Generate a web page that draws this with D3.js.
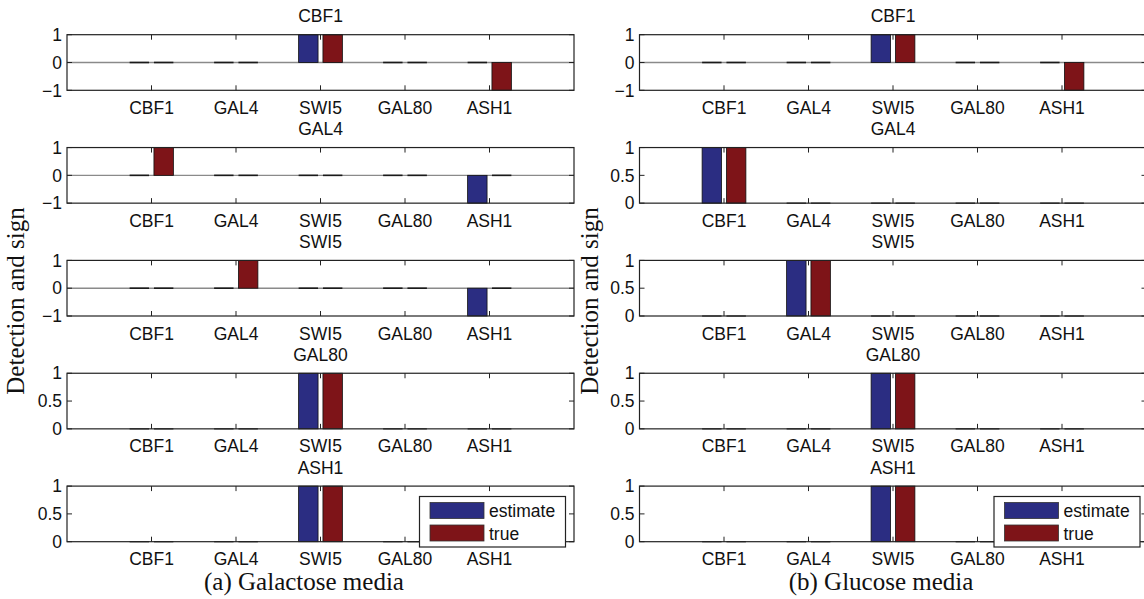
<!DOCTYPE html>
<html>
<head>
<meta charset="utf-8">
<script src="https://cdn.jsdelivr.net/npm/d3@7"></script>
<style>
  html, body { margin: 0; padding: 0; background: #fff; }
  svg { display: block; }
</style>
</head>
<body>
<svg id="chart" width="1144" height="599"></svg>
<script>
// ---- data ----
const genes = ["CBF1", "GAL4", "SWI5", "GAL80", "ASH1"];
const panelTitles = ["CBF1", "GAL4", "SWI5", "GAL80", "ASH1"];
const seriesNames = ["estimate", "true"];
const captions = ["(a) Galactose media", "(b) Glucose media"];
const yLabel = "Detection and sign";
const ticksSigned = [-1, 0, 1];
const ticksUnsigned = [0, 0.5, 1];
const tickFormatSigned = ["\u22121", "0", "1"];
const tickFormatUnsigned = ["0", "0.5", "1"];

// galactose media (a)
const galEstimate = [
  [0, 0, 1, 0, 0],
  [0, 0, 0, 0, -1],
  [0, 0, 0, 0, -1],
  [0, 0, 1, 0, 0],
  [0, 0, 1, 0, 0]
];
const galTrue = [
  [0, 0, 1, 0, -1],
  [1, 0, 0, 0, 0],
  [0, 1, 0, 0, 0],
  [0, 0, 1, 0, 0],
  [0, 0, 1, 0, 0]
];
// glucose media (b)
const gluEstimate = [
  [0, 0, 1, 0, 0],
  [1, 0, 0, 0, 0],
  [0, 1, 0, 0, 0],
  [0, 0, 1, 0, 0],
  [0, 0, 1, 0, 0]
];
const gluTrue = [
  [0, 0, 1, 0, -1],
  [1, 0, 0, 0, 0],
  [0, 1, 0, 0, 0],
  [0, 0, 1, 0, 0],
  [0, 0, 1, 0, 0]
];

// ---- style / layout ----
const colors = ["#2b2d82", "#7e1418"];
const sans = "'Liberation Sans', Arial, sans-serif";
const serif = "'Liberation Serif', 'Times New Roman', serif";
const fs = 17.5;

const svg = d3.select("#chart");

const columns = [
  { x0: 67, x1: 574, est: galEstimate, tru: galTrue, caption: captions[0], capX: 304, yLabX: 24, legend: { x: 419.5, y: 496.5, w: 146, h: 50.5 } },
  { x0: 639.5, x1: 1146.5, est: gluEstimate, tru: gluTrue, caption: captions[1], capX: 881, yLabX: 598, legend: { x: 994, y: 496.5, w: 146, h: 50.5 } }
];

const panelTop0 = 34.7, panelStep = 112.85, panelH = 55.6;
const barW = 0.23, barOff = 0.144;

columns.forEach(col => {
  const x = d3.scaleLinear().domain([0, genes.length + 1]).range([col.x0, col.x1]);

  panelTitles.forEach((title, i) => {
    const top = panelTop0 + i * panelStep;
    const bottom = top + panelH;
    const estVals = col.est[i], truVals = col.tru[i];
    const signed = estVals.concat(truVals).some(v => v < 0);
    const y = d3.scaleLinear().domain(signed ? [-1, 1] : [0, 1]).range([bottom, top]);
    const g = svg.append("g");

    // baseline
    if (signed) {
      g.append("line").attr("x1", x(0)).attr("x2", x(6)).attr("y1", y(0)).attr("y2", y(0))
        .attr("stroke", "#8a8a8a").attr("stroke-width", 1.4);
    }

    // bars
    [estVals, truVals].forEach((vals, s) => {
      const off = s === 0 ? -barOff : barOff;
      const nonZero = vals.map((d, j) => ({ d, j })).filter(o => o.d !== 0);
      const zero = vals.map((d, j) => ({ d, j })).filter(o => o.d === 0);
      g.selectAll(null).data(nonZero).enter().append("rect")
        .attr("x", o => x(o.j + 1 + off - barW / 2))
        .attr("width", x(barW) - x(0))
        .attr("y", o => Math.min(y(o.d), y(0)))
        .attr("height", o => Math.abs(y(o.d) - y(0)))
        .attr("fill", colors[s])
        .attr("stroke", "#111")
        .attr("stroke-width", 0.8);
      // zero-height bars show as short dark lines on the baseline
      g.selectAll(null).data(zero).enter().append("line")
        .attr("x1", o => x(o.j + 1 + off - barW / 2))
        .attr("x2", o => x(o.j + 1 + off + barW / 2))
        .attr("y1", y(0)).attr("y2", y(0))
        .attr("stroke", "#1a1a1a")
        .attr("stroke-width", signed ? 1.6 : 1.2);
    });

    // axes frame
    g.append("rect").attr("x", x(0)).attr("y", top).attr("width", x(6) - x(0)).attr("height", panelH)
      .attr("fill", "none").attr("stroke", "#222").attr("stroke-width", 1.2);

    // x ticks (inside, top and bottom)
    genes.forEach((gname, j) => {
      const xx = x(j + 1);
      g.append("line").attr("x1", xx).attr("x2", xx).attr("y1", bottom).attr("y2", bottom - 5).attr("stroke", "#222");
      g.append("line").attr("x1", xx).attr("x2", xx).attr("y1", top).attr("y2", top + 5).attr("stroke", "#222");
      g.append("text").attr("x", xx).attr("y", bottom + 23.5).attr("text-anchor", "middle")
        .attr("font-family", sans).attr("font-size", fs).attr("fill", "#111").text(gname);
    });

    // y ticks
    const yt = signed ? ticksSigned : ticksUnsigned;
    const ytl = signed ? tickFormatSigned : tickFormatUnsigned;
    yt.forEach((t, k) => {
      g.append("line").attr("x1", x(0)).attr("x2", x(0) + 5).attr("y1", y(t)).attr("y2", y(t)).attr("stroke", "#222");
      g.append("line").attr("x1", x(6)).attr("x2", x(6) - 5).attr("y1", y(t)).attr("y2", y(t)).attr("stroke", "#222");
      g.append("text").attr("x", x(0) - 5).attr("y", y(t) + 6.2).attr("text-anchor", "end")
        .attr("font-family", sans).attr("font-size", fs).attr("fill", "#111").text(ytl[k]);
    });

    // title
    g.append("text").attr("x", (x(0) + x(6)) / 2).attr("y", top - 12.5).attr("text-anchor", "middle")
      .attr("font-family", sans).attr("font-size", fs).attr("fill", "#111").text(title);

    // legend in last panel
    if (i === panelTitles.length - 1) {
      const L = col.legend;
      const lg = svg.append("g");
      lg.append("rect").attr("x", L.x).attr("y", L.y).attr("width", L.w).attr("height", L.h)
        .attr("fill", "#fff").attr("stroke", "#222").attr("stroke-width", 1.2);
      seriesNames.forEach((nm, s) => {
        const sy = L.y + 6 + s * 22.5;
        lg.append("rect").attr("x", L.x + 10.5).attr("y", sy).attr("width", 54).attr("height", 16)
          .attr("fill", colors[s]).attr("stroke", "#333").attr("stroke-width", 0.8);
        lg.append("text").attr("x", L.x + 69.5).attr("y", sy + 14.5)
          .attr("font-family", sans).attr("font-size", fs).attr("fill", "#111").text(nm);
      });
    }
  });

  // caption
  svg.append("text").attr("x", col.capX).attr("y", 590).attr("text-anchor", "middle")
    .attr("font-family", serif).attr("font-size", 25).attr("fill", "#111").text(col.caption);

  // y label
  svg.append("text").attr("transform", `translate(${col.yLabX},${301}) rotate(-90)`)
    .attr("text-anchor", "middle").attr("font-family", serif).attr("font-size", 25)
    .attr("fill", "#111").text(yLabel);
});
</script>
</body>
</html>
